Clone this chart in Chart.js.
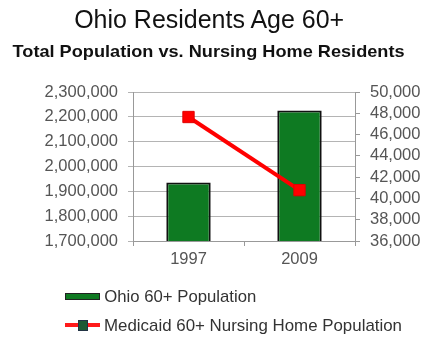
<!DOCTYPE html>
<html>
<head>
<meta charset="utf-8">
<script src="https://cdn.jsdelivr.net/npm/chart.js@4.4.1/dist/chart.umd.min.js"></script>
<style>
  html, body { margin: 0; padding: 0; background: #fff; }
  #wrap { position: relative; width: 426px; height: 338px; overflow: hidden; font-family: "Liberation Sans", Arial, sans-serif; }
  #c { position: absolute; left: 0; top: 0; }
  .t { position: absolute; left: 0; width: 418px; text-align: center; white-space: nowrap; line-height: 1; }
  .t span { display: inline-block; transform-origin: center; }
  #title { top: 7px; font-size: 25px; color: #111; }
  #subtitle { top: 43px; font-size: 17px; font-weight: bold; color: #111; }
  .leg { position: absolute; left: 65px; height: 20px; white-space: nowrap; }
  .leg .txt { position: absolute; left: 38px; top: 1px; font-size: 17px; line-height: 1; color: #333; }
  .sw-bar { position: absolute; left: 0; top: 6px; width: 33px; height: 5px; background: #0f7a22; border: 1px solid #222; }
  .sw-line { position: absolute; left: 0; top: 7px; width: 35px; height: 4px; background: #ff1a1a; }
  .sw-pt { position: absolute; left: 13px; top: 4px; width: 8px; height: 9px; background: #1d5a33; border: 1px solid #234; }
</style>
</head>
<body>
<div id="wrap">
  <canvas id="c" width="426" height="338"></canvas>
  <div class="t" id="title"><span id="titleSpan"></span></div>
  <div class="t" id="subtitle"><span id="subSpan"></span></div>
  <div class="leg" id="leg1" style="top:287px"><div class="sw-bar"></div><div class="txt" id="leg1t"></div></div>
  <div class="leg" id="leg2" style="top:316px"><div class="sw-line"></div><div class="sw-pt"></div><div class="txt" id="leg2t"></div></div>
</div>
<script>
const titleText = 'Ohio Residents Age 60+';
const subtitleText = 'Total Population vs. Nursing Home Residents';
const categories = ['1997', '2009'];
const seriesNames = ['Ohio 60+ Population', 'Medicaid 60+ Nursing Home Population'];
const ohioPopulation = [1936000, 2226000];
const nursingHomePopulation = [47650, 40780];
const leftTicks = [1700000, 1800000, 1900000, 2000000, 2100000, 2200000, 2300000];
const rightTicks = [36000, 38000, 40000, 42000, 44000, 46000, 48000, 50000];

document.getElementById('titleSpan').textContent = titleText;
document.getElementById('subSpan').textContent = subtitleText;
document.getElementById('leg1t').textContent = seriesNames[0];
document.getElementById('leg2t').textContent = seriesNames[1];

function fit(id, target) {
  const el = document.getElementById(id);
  const w = el.getBoundingClientRect().width;
  if (w > 0) el.style.transform = 'scaleX(' + (target / w) + ')';
}

const fmt = v => Number(v).toLocaleString('en-US');
const tickFont = { family: '"Liberation Sans", Arial, sans-serif', size: 16.5 };

new Chart(document.getElementById('c'), {
  data: {
    labels: categories,
    datasets: [
      {
        type: 'line',
        label: seriesNames[1],
        data: nursingHomePopulation,
        yAxisID: 'y1',
        borderColor: '#ff0000',
        borderWidth: 4,
        pointStyle: 'rect',
        pointRadius: 8,
        pointBackgroundColor: '#ff0000',
        pointBorderColor: '#e00000',
        pointBorderWidth: 1,
        order: 0
      },
      {
        type: 'bar',
        label: seriesNames[0],
        data: ohioPopulation,
        yAxisID: 'y',
        backgroundColor: '#0e7a22',
        borderColor: '#111',
        borderWidth: 2,
        barPercentage: 0.4,
        categoryPercentage: 1,
        order: 1
      }
    ]
  },
  options: {
    responsive: false,
    animation: false,
    devicePixelRatio: 1,
    layout: { padding: { top: 92, bottom: 0, left: 0, right: 0 } },
    plugins: { legend: { display: false }, title: { display: false }, tooltip: { enabled: false } },
    scales: {
      x: {
        offset: true,
        grid: { display: true, offset: true, drawOnChartArea: false, color: '#999', tickLength: 5 },
        border: { display: true, color: '#999' },
        ticks: { color: '#555', font: tickFont, padding: 4 },
        afterFit: s => { s.height = 97; }
      },
      y: {
        position: 'left',
        min: leftTicks[0],
        max: leftTicks[leftTicks.length - 1],
        afterBuildTicks: s => { s.ticks = leftTicks.map(v => ({ value: v })); },
        grid: { color: '#b4b4b4', tickLength: 5, lineWidth: 1 },
        border: { color: '#999' },
        ticks: { color: '#555', font: tickFont, padding: 10, autoSkip: false, callback: v => fmt(v) },
        afterFit: s => { s.width = 133; }
      },
      y1: {
        position: 'right',
        min: rightTicks[0],
        max: rightTicks[rightTicks.length - 1],
        afterBuildTicks: s => { s.ticks = rightTicks.map(v => ({ value: v })); },
        grid: { drawOnChartArea: false, color: '#999', tickLength: 5 },
        border: { color: '#999' },
        ticks: { color: '#555', font: tickFont, padding: 10, autoSkip: false, callback: v => fmt(v) },
        afterFit: s => { s.width = 71; }
      }
    }
  }
});

(document.fonts ? document.fonts.ready : Promise.resolve()).then(() => {
  fit('titleSpan', 270);
  fit('subSpan', 392);
  fit('leg1t', 152);
  fit('leg2t', 298);
});
</script>
</body>
</html>
